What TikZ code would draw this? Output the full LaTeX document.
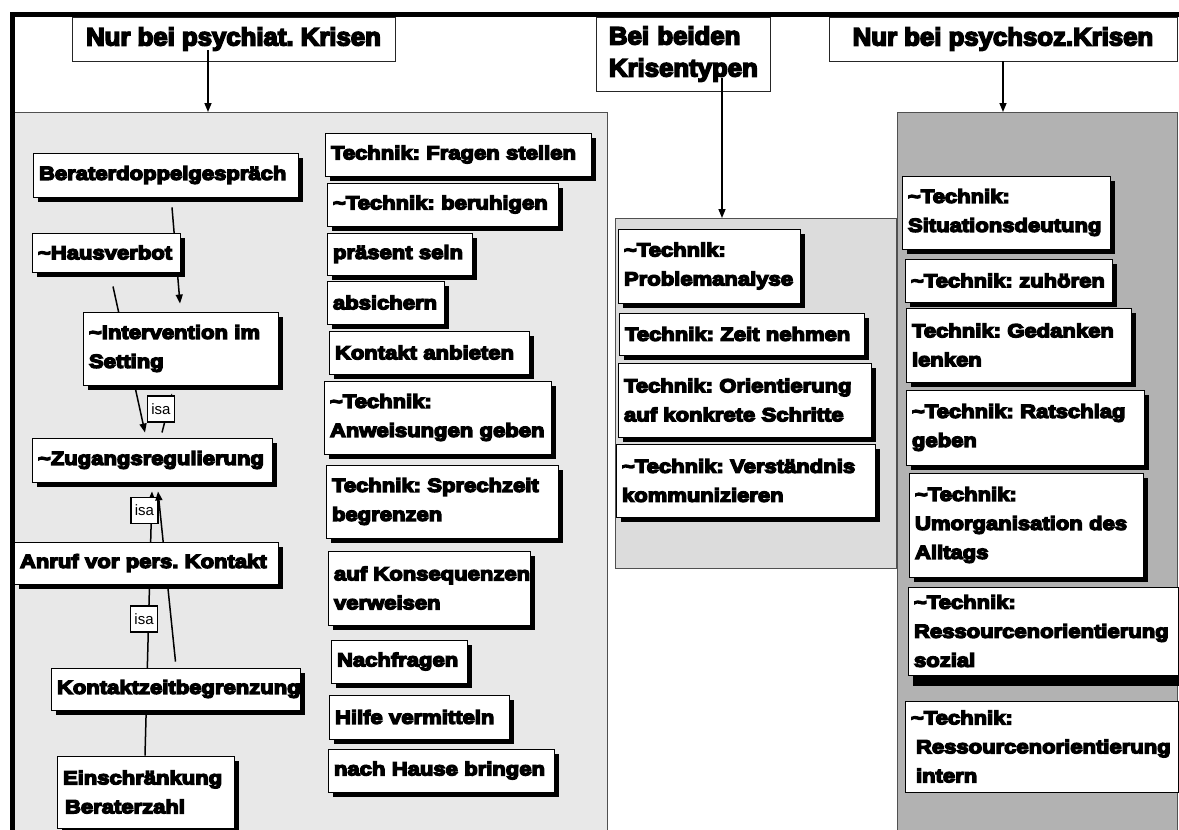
\documentclass[tikz,border=0pt]{standalone}
\usepackage{fontspec}
\usetikzlibrary{arrows.meta,shadows,calc}

\newfontfamily\nodefont[FakeStretch=1.16]{Liberation Sans Bold}
\newfontfamily\hdrfont[FakeStretch=1.03]{Liberation Sans Bold}
\newfontfamily\isafont{Liberation Sans}
\newcommand\tld{\char"7E\relax}
\newcommand\nohyph{\hyphenpenalty=10000\exhyphenpenalty=10000\relax}
% heavier glyphs: fill and stroke the outlines
\newcommand\heavyon[1]{\special{pdf:literal direct 2 Tr #1 w}}
\newcommand\heavyoff{\special{pdf:literal direct 0 Tr}}

\definecolor{panelA}{HTML}{E8E8E8}
\definecolor{panelB}{HTML}{DCDCDC}
\definecolor{panelC}{HTML}{B2B2B2}
\definecolor{rim}{HTML}{505050}

\pgfdeclarelayer{panels}
\pgfdeclarelayer{edges}
\pgfsetlayers{panels,edges,main}

\tikzset{
  plainbox/.style={draw=black, line width=0.9pt, fill=white,
    font=\nodefont\fontsize{19}{29}\selectfont\nohyph, align=left,
    inner xsep=6pt, inner ysep=0pt,
    execute at begin node=\heavyon{1.4}, execute at end node=\heavyoff},
  box/.style={plainbox, drop shadow={shadow xshift=5pt, shadow yshift=-5pt,
    fill=black, opacity=1}},
  hdr/.style={draw=black!85, line width=0.9pt, fill=white,
    font=\hdrfont\fontsize{25}{32}\selectfont\nohyph, inner ysep=0pt,
    execute at begin node=\heavyon{1.6}, execute at end node=\heavyoff},
  panel/.style={draw=rim, line width=1.2pt, inner sep=0pt, anchor=north west},
  link/.style={line width=1.5pt, black},
  arr/.style={link, -{Triangle[length=9pt,width=7pt]}},
  isa/.style={draw=black, line width=1.3pt, fill=white,
    font=\isafont\fontsize{15}{15}\selectfont, inner sep=1pt,
    minimum width=27pt, minimum height=26pt},
}

% \bx[style]{name}{x1}{y1}{x2}{y2}{text}: box given by its corners
\newcommand\bx[7][box]{%
  \pgfmathsetmacro\bxw{#5-#3-12}%
  \node[#1, minimum width={#5-#3}, minimum height={#6-#4}, text width=\bxw pt]
    (#2) at ({(#3+#5)/2},{(#4+#6)/2}) {#7};}

\begin{document}
\begin{tikzpicture}[x=1pt,y=-1pt]
\useasboundingbox (0,0) rectangle (1179,830);

% panels
\begin{pgfonlayer}{panels}
  \node[panel, fill=panelA, minimum width=594, minimum height=740] (lp) at (13,112) {};
  \node[panel, fill=panelB, minimum width=281, minimum height=350] (mp) at (615,218) {};
  \node[panel, fill=panelC, minimum width=280, minimum height=740] (rp) at (897,112) {};
\end{pgfonlayer}

% outer frame
\draw[line width=4.5pt] (10,14.5) -- (1179,14.5);
\draw[line width=5pt] (12.5,12) -- (12.5,830);

% headers
\node[hdr, minimum width=323, minimum height=44] (h1) at (233.5,39) {Nur bei psychiat.~Krisen};
\node[hdr, minimum width=174, minimum height=74, align=left, text width=148pt] (h2) at (683,54)
  {Bei beiden\\Krisentypen};
\node[hdr, minimum width=348, minimum height=44] (h3) at (1003,39) {Nur bei psychsoz.Krisen};

% left panel: setting
\bx{bd}{33}{153}{298}{197}{Beraterdoppelgespräch}
\bx{hv}{32}{233}{180}{272}{\tld Hausverbot}
\bx{iv}{83}{312}{278}{385}{\tld Intervention~im\\Setting}
\bx{zr}{32}{438}{272}{482}{\tld Zugangsregulierung}
\bx{an}{14}{542}{278}{584}{Anruf~vor~pers.~Kontakt}
\bx{kz}{51}{668}{300}{710}{Kontaktzeitbegrenzung}
\bx{ez}{57}{756}{234}{828}{Einschränkung\\\hspace*{2pt}Beraterzahl}

% left panel: techniques
\bx{t1}{325}{133}{591}{176}{Technik:~Fragen~stellen}
\bx{t2}{327}{183}{558}{226}{\tld Technik:~beruhigen}
\bx{t3}{327}{233}{472}{275}{präsent~sein}
\bx{t4}{327}{281}{444}{324}{absichern}
\bx{t5}{329}{331}{529}{374}{Kontakt~anbieten}
\bx{t6}{324}{381}{551}{454}{\tld Technik:\\Anweisungen~geben}
\bx{t7}{326}{465}{558}{538}{Technik:~Sprechzeit\\begrenzen}
\bx{t8}{328}{551}{530}{625}{auf~Konsequenzen\\verweisen}
\bx{t9}{331}{640}{467}{683}{Nachfragen}
\bx{t10}{329}{695}{509}{739}{Hilfe~vermitteln}
\bx{t11}{328}{749}{554}{792}{nach~Hause~bringen}

% middle panel
\bx{m1}{618}{229}{800}{303}{\tld Technik:\\Problemanalyse}
\bx{m2}{619}{313}{864}{355}{Technik:~Zeit~nehmen}
\bx{m3}{618}{363}{871}{437}{Technik:~Orientierung\\auf~konkrete~Schritte}
\bx{m4}{616}{444}{875}{517}{\tld Technik:~Verständnis\\kommunizieren}

% right panel
\bx{r1}{902}{176}{1110}{249}{\tld Technik:\\Situationsdeutung}
\bx{r2}{905}{259}{1112}{302}{\tld Technik:~zuhören}
\bx{r3}{906}{308}{1131}{382}{Technik:~Gedanken\\lenken}
\bx{r4}{906}{390}{1144}{465}{\tld Technik:~Ratschlag\\geben}
\bx{r5}{909}{473}{1143}{577}{\tld Technik:\\Umorganisation~des\\Alltags}
\bx[plainbox, drop shadow={shadow xshift=5pt, shadow yshift=-11pt, fill=black, opacity=1}]
  {r6}{908}{587}{1178}{675}{\tld Technik:\\Ressourcenorientierung\\sozial}
\bx[plainbox]{r7}{905}{701}{1178}{792}{\tld Technik:\\\hspace*{5pt}Ressourcenorientierung\\\hspace*{5pt}intern}

% header arrows
\draw[arr] ([xshift=-25.5pt,yshift=-11pt]h1.center) coordinate (h1a) -- (h1a |- lp.north);
\draw[arr] ([xshift=39pt,yshift=-24pt]h2.center) coordinate (h2a) -- (h2a |- mp.north);
\draw[arr] (h3.south) -- (h3.south |- rp.north);

% relations between the setting nodes
\begin{pgfonlayer}{edges}
  \draw[arr] ([xshift=6.5pt,yshift=-10pt]bd.south) -- ([xshift=-0.5pt,yshift=8pt]iv.north);
  \draw[arr] ([xshift=7pt,yshift=-14pt]hv.south) -- ([xshift=-7pt,yshift=5pt]zr.north);
  \draw[arr] ([xshift=10pt,yshift=5pt]zr.north) -- ([xshift=-8.5pt,yshift=-8pt]iv.south)
    node[isa, pos=0.6, xshift=-7pt] {isa};
  \draw[arr] ([xshift=-0.5pt]ez.north) -- ([yshift=-9pt]zr.south)
    node[isa, pos=0.517, xshift=-4.6pt] {isa}
    node[isa, pos=0.928, xshift=-7pt] {isa};
  \draw[arr] ([yshift=6pt]kz.north) -- ([xshift=6pt,yshift=-9pt]zr.south);
\end{pgfonlayer}
\end{tikzpicture}
\end{document}
